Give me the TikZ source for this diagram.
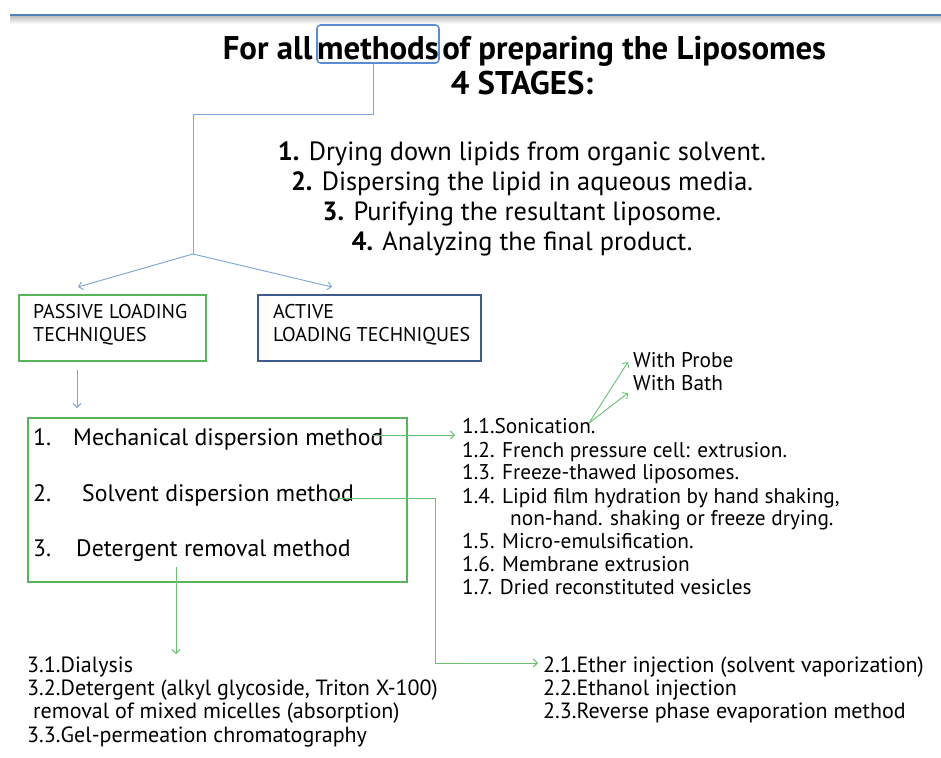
\documentclass[tikz,border=0pt]{standalone}
\usepackage{fontspec}
\setmainfont{PT Sans}
\usetikzlibrary{arrows.meta}

\definecolor{linienblau}{RGB}{79,129,189}
\definecolor{rahmenblau}{RGB}{88,140,212}
\definecolor{pfeilblau}{RGB}{125,165,215}
\definecolor{aktivblau}{RGB}{60,92,140}
\definecolor{passivgruen}{RGB}{88,180,88}
\definecolor{pfeilgruen}{RGB}{105,195,115}

\tikzset{
	txt/.style={inner sep=0pt, anchor=base west},
	titel/.style={inner sep=0pt, font=\bfseries\fontsize{28}{33}\selectfont},
	stufe/.style={inner sep=0pt, anchor=base, font=\fontsize{22.5}{27}\selectfont},
	kasten/.style={txt, font=\fontsize{17}{20}\selectfont},
	methode/.style={txt, font=\fontsize{20.3}{24}\selectfont},
	liste/.style={txt, font=\fontsize{18.2}{21}\selectfont},
	unten/.style={txt, font=\fontsize{18.8}{22}\selectfont},
	blaupfeil/.style={pfeilblau, line width=0.8pt},
	gruenpfeil/.style={pfeilgruen, line width=0.8pt}
}

\begin{document}
\begin{tikzpicture}[x=0.03cm, y=-0.03cm, >={Straight Barb[length=1.2mm,width=2.4mm]}]
		\useasboundingbox (0,0) rectangle (941,758);
		
		% Linie oben
		\shade[top color=black!25, bottom color=white] (10,16) rectangle (941,24);
		\draw[linienblau, line width=2.4pt] (10,15) -- (941,15);
		
		% Titel
		\node[titel, draw=rahmenblau, line width=1.3pt, rounded corners=3pt, anchor=base,
			minimum width=3.66cm, text height=1.05cm, text depth=0.09cm] (meth) at (378,60) {methods};
		\node[titel, anchor=base east] (forall) at ([xshift=-3pt]meth.base west) {For all};
		\node[titel, anchor=base west] (prep) at ([xshift=2pt]meth.base east) {of preparing the Liposomes};
		\node[titel, anchor=base] (stufen) at (522,94) {4 STAGES:};
		
		% Stufen
		\node[stufe] (s1) at (522,160) {\textbf{1.} Drying down lipids from organic solvent.};
		\node[stufe] (s2) at (522,190) {\textbf{2.} Dispersing the lipid in aqueous media.};
		\node[stufe] (s3) at (522,220) {\textbf{3.} Purifying the resultant liposome.};
		\node[stufe] (s4) at (522,250) {\textbf{4.} Analyzing the final product.};
		
		% Verzweigung
		\coordinate (k1) at (373,114);
		\coordinate (k2) at (193,114);
		\coordinate (gabel) at (193,254);
		\coordinate (pl) at (78,287);
		\coordinate (pr) at (332,287);
		\draw[blaupfeil] (meth.south -| k1) -- (k1) -- (k2) -- (gabel);
		\draw[blaupfeil, ->] (gabel) -- (pl);
		\draw[blaupfeil, ->] (gabel) -- (pr);
		
		% Passive / aktive Techniken
		\draw[passivgruen, line width=1.5pt] (19,295) rectangle (206,361);
		\node[kasten] (passiv1) at (33,318) {PASSIVE LOADING};
		\node[kasten] (passiv2) at (33,341) {TECHNIQUES};
		\draw[aktivblau, line width=1.5pt] (258,295) rectangle (481,361);
		\node[kasten] (aktiv1) at (273,318) {ACTIVE};
		\node[kasten] (aktiv2) at (273,341) {LOADING TECHNIQUES};
		\coordinate (p1) at (77,370);
		\coordinate (p2) at (77,408);
		\draw[blaupfeil, ->] (p1) -- (p2);
		
		% Methoden
		\draw[passivgruen, line width=2.2pt] (28,418) rectangle (407,582);
		\node[methode] (n1) at (33,445) {1.};
		\node[methode] (m1) at (73,445) {Mechanical dispersion method};
		\node[methode] (n2) at (33,501) {2.};
		\node[methode] (m2) at (82,501) {Solvent dispersion method};
		\node[methode] (n3) at (33,556) {3.};
		\node[methode] (m3) at (76,556) {Detergent removal method};
		
		% Mechanische Methoden
		\node[liste] (u11) at (462,433) {1.1.Sonication.};
		\node[liste] (u12) at (462,457) {1.2. French pressure cell: extrusion.};
		\node[liste] (u13) at (462,479) {1.3. Freeze-thawed liposomes.};
		\node[liste] (u14) at (462,503) {1.4. Lipid film hydration by hand shaking,};
		\node[liste] (u14b) at (510,525) {non-hand. shaking or freeze drying.};
		\node[liste] (u15) at (462,548) {1.5. Micro-emulsification.};
		\node[liste] (u16) at (462,571) {1.6. Membrane extrusion};
		\node[liste] (u17) at (462,594) {1.7. Dried reconstituted vesicles};
		\node[liste] (probe) at (633,367) {With Probe};
		\node[liste] (bath) at (633,390) {With Bath};
		
		% Detergent
		\node[unten] (u31) at (27,672) {3.1.Dialysis};
		\node[unten] (u32) at (27,695) {3.2.Detergent (alkyl glycoside, Triton X-100)};
		\node[unten] (u32b) at (33,718) {removal of mixed micelles (absorption)};
		\node[unten] (u33) at (27,742) {3.3.Gel-permeation chromatography};
		
		% Solvent
		\node[unten] (u21) at (543,672) {2.1.Ether injection (solvent vaporization)};
		\node[unten] (u22) at (543,695) {2.2.Ethanol injection};
		\node[unten] (u23) at (543,718) {2.3.Reverse phase evaporation method};
		
		% Pfeile gruen
		\coordinate (son) at (589,423);
		\coordinate (sp) at (628,362);
		\coordinate (sb) at (628,393);
		\draw[gruenpfeil, ->] (son) -- (sp);
		\draw[gruenpfeil, ->] (son) -- (sb);
		\coordinate (a1) at (373,435);
		\coordinate (a2) at (455,435);
		\draw[gruenpfeil, ->] (a1) -- (a2);
		\coordinate (b1) at (333,498);
		\coordinate (b2) at (435,663);
		\coordinate (b3) at (538,663);
		\draw[gruenpfeil, ->] (b1) -| (b2) -- (b3);
		\coordinate (c1) at (176,567);
		\coordinate (c2) at (176,654);
		\draw[gruenpfeil, ->] (c1) -- (c2);
	\end{tikzpicture}
\end{document}
